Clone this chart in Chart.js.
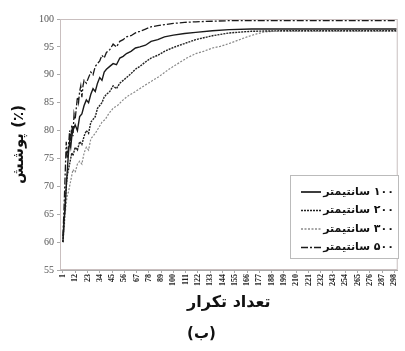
<!DOCTYPE html>
<html>
<head>
<meta charset="utf-8">
<script src="https://cdn.jsdelivr.net/npm/chart.js@4"></script>
<style>
  html, body { margin: 0; padding: 0; background: #fff; }
  #wrap { width: 405px; height: 351px; }
</style>
</head>
<body>
<div id="wrap"><canvas id="cov_chart"></canvas></div>
<script>
// x tick labels (iterations)
const x_ticks = [1, 12, 23, 34, 45, 56, 67, 78, 89, 100, 111, 122, 133, 144, 155, 166, 177, 188, 199, 210, 221, 232, 243, 254, 265, 276, 287, 298];

const legend_names = ["۱۰۰ سانتیمتر", "۲۰۰ سانتیمتر", "۳۰۰ سانتیمتر", "۵۰۰ سانتیمتر"];

// 100 cm
const iter_100 = [1, 2, 3, 4, 5, 6, 7, 8, 9, 10, 12, 14, 16, 18, 20, 22, 24, 26, 28, 30, 32, 34, 36, 38, 40, 43, 46, 49, 52, 55, 58, 62, 66, 70, 75, 80, 86, 92, 100, 110, 120, 135, 150, 170, 200, 250, 300];
const cov_100 = [60, 64, 66, 70, 73, 76, 78, 77, 79, 80, 81, 80, 82.5, 83, 84.5, 85.5, 85, 86.5, 87.5, 87, 88.5, 89.5, 89, 90.5, 91, 91.5, 92, 91.8, 93, 93.3, 93.8, 94.2, 94.8, 95, 95.3, 96, 96.3, 96.8, 97.1, 97.4, 97.6, 97.9, 98.1, 98.2, 98.2, 98.2, 98.2];

// 200 cm
const iter_200 = iter_100;
const cov_200 = [60, 63, 67, 70, 72, 73, 74, 75, 76, 75.5, 77, 76.5, 78, 77.5, 79, 80, 79.5, 81.5, 82, 82.5, 84, 84.5, 85, 86, 86.5, 87, 88, 87.5, 88.5, 89, 89.5, 90.2, 91, 91.5, 92.3, 93, 93.5, 94.2, 94.9, 95.6, 96.3, 97, 97.5, 97.8, 97.9, 97.9, 97.9];

// 300 cm
const iter_300 = [1, 2, 3, 4, 5, 6, 8, 10, 12, 14, 16, 18, 20, 22, 24, 26, 28, 30, 33, 36, 39, 42, 46, 50, 55, 60, 66, 72, 80, 88, 96, 104, 112, 120, 127, 135, 142, 150, 158, 166, 174, 182, 190, 220, 260, 300];
const cov_300 = [60, 62, 65, 67, 68.5, 69, 71, 73, 72.5, 74, 74.5, 74, 76, 77, 76.5, 78.5, 79, 79.5, 80.5, 81.5, 82, 83, 84, 84.5, 85.5, 86.3, 87, 87.8, 88.8, 89.8, 91, 92, 93, 93.8, 94.2, 94.8, 95.1, 95.6, 96.2, 96.8, 97.3, 97.7, 97.8, 97.8, 97.8, 97.8];

// 500 cm
const iter_500 = [1, 2, 3, 4, 5, 6, 7, 8, 9, 10, 11, 12, 13, 14, 15, 16, 17, 18, 19, 20, 22, 24, 26, 28, 30, 32, 34, 36, 38, 40, 43, 46, 49, 52, 55, 58, 62, 66, 70, 75, 80, 86, 92, 100, 110, 120, 135, 150, 170, 200, 250, 300];
const cov_500 = [61, 66, 72, 78, 75, 77, 80, 78, 81, 79, 83, 82, 84, 86, 85, 87, 88, 86, 88, 89, 88.5, 89.5, 90.5, 90, 91.5, 92, 92.5, 93.5, 93, 94, 94.5, 95.5, 95, 96, 96.3, 96.8, 97, 97.5, 97.8, 98.2, 98.6, 98.8, 99, 99.2, 99.4, 99.5, 99.6, 99.7, 99.7, 99.7, 99.7, 99.7];

function pts(xs, ys) {
  return xs.map((x, i) => ({ x: x, y: ys[i] }));
}

const line_styles = [
  { color: "#1a1a1a", dash: [], width: 1.4 },
  { color: "#222", dash: [2, 1], width: 1.4 },
  { color: "#8a8a8a", dash: [2, 1.5], width: 1.2 },
  { color: "#1a1a1a", dash: [7, 2, 2, 2], width: 1.3 },
];

const cov_data = {
  datasets: [
    { data: pts(iter_100, cov_100) },
    { data: pts(iter_200, cov_200) },
    { data: pts(iter_300, cov_300) },
    { data: pts(iter_500, cov_500) },
  ].map((d, i) => Object.assign(d, {
    label: legend_names[i],
    borderColor: line_styles[i].color,
    borderDash: line_styles[i].dash,
    borderWidth: line_styles[i].width,
    pointRadius: 0,
    fill: false,
    tension: 0,
  })),
};

// border round the plot area
const frame_plugin = {
  id: "frame",
  afterDraw(chart) {
    const { ctx, chartArea: a } = chart;
    ctx.save();
    ctx.strokeStyle = "#c9bfbf";
    ctx.lineWidth = 1;
    ctx.strokeRect(a.left + 0.5, a.top + 0.5, a.right - a.left - 1, a.bottom - a.top - 1);
    ctx.restore();
  },
};

// legend box, line sample on the left, text on the right
const box_legend = {
  id: "box_legend",
  afterDraw(chart) {
    const ctx = chart.ctx;
    const bx = 290, by = 175, bw = 108, bh = 83;
    ctx.save();
    ctx.fillStyle = "#fff";
    ctx.fillRect(bx, by, bw, bh);
    ctx.strokeStyle = "#bbb";
    ctx.lineWidth = 1;
    ctx.strokeRect(bx + 0.5, by + 0.5, bw, bh);
    ctx.font = "bold 11px 'DejaVu Sans'";
    ctx.textBaseline = "middle";
    ctx.textAlign = "right";
    ctx.direction = "rtl";
    for (let i = 0; i < legend_names.length; i++) {
      const y = by + 17 + i * 18.5;
      const st = line_styles[i];
      ctx.strokeStyle = st.color;
      ctx.lineWidth = st.width + 0.3;
      ctx.setLineDash(st.dash);
      ctx.beginPath();
      ctx.moveTo(301, y);
      ctx.lineTo(321, y);
      ctx.stroke();
      ctx.setLineDash([]);
      ctx.fillStyle = "#111";
      ctx.fillText(legend_names[i], 394, y);
    }
    ctx.restore();
  },
};

const cov_chart = new Chart(document.getElementById("cov_chart"), {
  type: "line",
  data: cov_data,
  plugins: [frame_plugin, box_legend],
  options: {
    responsive: true,
    maintainAspectRatio: false,
    animation: false,
    layout: { padding: { top: 19, right: 2, left: 0, bottom: 0 } },
    plugins: {
      legend: { display: false },
      tooltip: { enabled: false },
      title: {
        display: true,
        position: "bottom",
        text: "(ب)",
        color: "#111",
        font: { family: "'DejaVu Sans'", size: 15, weight: "bold" },
        padding: { top: 0, bottom: 8 },
      },
    },
    scales: {
      x: {
        type: "linear",
        min: -1.6,
        max: 301,
        afterBuildTicks(scale) {
          scale.ticks = x_ticks.map((v) => ({ value: v }));
        },
        afterFit(scale) {
          scale.height = 55;
        },
        ticks: {
          autoSkip: false,
          maxRotation: 90,
          minRotation: 90,
          padding: 1,
          color: "#222",
          font: { family: "'Liberation Serif'", size: 8, weight: "bold" },
        },
        grid: { drawOnChartArea: false, tickLength: 3, color: "#aaa" },
        border: { color: "#aaa" },
        title: {
          display: true,
          text: "تعداد تکرار",
          color: "#111",
          font: { family: "'DejaVu Sans'", size: 16, weight: "bold" },
          padding: { top: 0, bottom: 13 },
        },
      },
      y: {
        min: 55,
        max: 100,
        ticks: {
          stepSize: 5,
          padding: 3,
          color: "#555",
          font: { family: "'Liberation Serif'", size: 10 },
        },
        afterFit(scale) {
          scale.width = 60;
        },
        grid: { drawOnChartArea: false, tickLength: 3, color: "#aaa" },
        border: { color: "#aaa" },
        title: {
          display: true,
          text: "پوشش (٪)",
          color: "#111",
          font: { family: "'DejaVu Sans'", size: 15, weight: "bold" },
          padding: { top: 10, bottom: 0 },
        },
      },
    },
  },
});
</script>
</body>
</html>
